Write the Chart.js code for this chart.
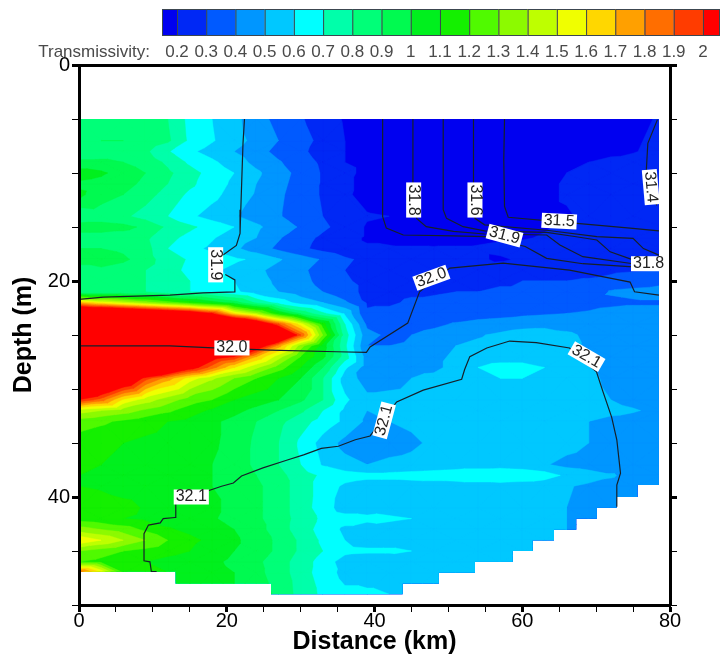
<!DOCTYPE html>
<html>
<head>
<meta charset="utf-8">
<style>
html,body{margin:0;padding:0;background:#fff}
#wrap{position:relative;width:720px;height:657px}
</style>
<script src="https://cdn.jsdelivr.net/npm/chart.js@4/dist/chart.umd.min.js"></script>
</head>
<body>
<div id="wrap"><canvas id="c" width="720" height="657"></canvas></div>
<script>
// colour classes of the transmissivity field
const levels = [0.2,0.3,0.4,0.5,0.6,0.7,0.8,0.9,1,1.1,1.2,1.3,1.4,1.5,1.6,1.7,1.8,1.9,2];
const levelLabels = ['0.2','0.3','0.4','0.5','0.6','0.7','0.8','0.9','1','1.1','1.2','1.3','1.4','1.5','1.6','1.7','1.8','1.9','2'];
const levelColors = ['#0000f0','#0028f5','#005aff','#0096ff','#00c8ff','#00ffff','#00ffaa','#00ff78','#00fa50','#00f01e',
  '#14f000','#50fa00','#8cfa00','#beff00','#f0ff00','#ffd700','#ffa000','#ff6e00','#ff3c00','#ff0000'];

const distances = [0,3,6,9,12,15,18,21,24,27,30,33,36,39,42,45,48,51,54,57,60,63,66,69,72,75,79];
const depths = [5,7,8,9,10,11,12,14,15,16,17,18,19,20,21,22,23,24,25,26,27,28,29,31,32,33,35,37,38,39,41,42,43,44,45,46,47,49];

const d05 = [.85,.85,.85,.84,.8,.67,.6,.53,.44,.37,.31,.25,.19,.14,.12,.12,.12,.12,.12,.12,.12,.12,.12,.13,.14,.16,.22];
const d07 = [.88,.9,.9,.88,.82,.68,.61,.54,.47,.4,.34,.27,.2,.16,.13,.12,.12,.12,.12,.12,.12,.13,.14,.16,.17,.18,.24];
const d08 = [.84,.85,.85,.82,.71,.62,.56,.5,.44,.37,.32,.26,.2,.16,.13,.12,.12,.12,.12,.12,.12,.13,.14,.15,.16,.19,.25];
const d09 = [.92,.92,.9,.86,.78,.68,.62,.55,.47,.41,.35,.28,.2,.18,.14,.13,.12,.12,.12,.13,.14,.16,.18,.2,.24,.25,.26];
const d10 = [1.05,1.02,.95,.9,.82,.74,.66,.6,.52,.44,.37,.29,.22,.18,.14,.13,.12,.12,.13,.13,.15,.17,.2,.23,.25,.26,.27];
const d11 = [.98,.96,.93,.88,.8,.72,.65,.58,.5,.43,.36,.29,.22,.17,.14,.13,.12,.12,.13,.14,.16,.18,.21,.24,.25,.26,.27];
const d12 = [1.02,.95,.9,.84,.76,.68,.63,.56,.49,.42,.35,.29,.22,.16,.14,.13,.12,.12,.13,.14,.16,.18,.21,.24,.25,.26,.27];
const d14 = [.82,.84,.82,.76,.7,.62,.56,.51,.46,.41,.35,.3,.24,.21,.2,.16,.14,.13,.13,.14,.16,.18,.19,.22,.24,.25,.26];
const d15 = [.95,.95,.93,.88,.78,.72,.66,.6,.52,.45,.39,.32,.26,.19,.18,.16,.14,.13,.14,.15,.17,.19,.22,.24,.25,.26,.26];
const d16 = [.85,.85,.85,.82,.73,.67,.61,.55,.5,.41,.34,.28,.23,.19,.18,.17,.16,.17,.18,.19,.19,.21,.23,.25,.26,.26,.27];
const d17 = [.9,.9,.88,.84,.7,.63,.58,.52,.45,.38,.32,.27,.23,.21,.21,.21,.21,.21,.21,.22,.24,.25,.26,.26,.27,.27,.27];
const d18 = [.95,.95,.92,.85,.74,.69,.65,.62,.58,.51,.45,.39,.32,.27,.25,.24,.23,.22,.21,.19,.21,.24,.25,.26,.27,.28,.28];
const d19 = [.85,.88,.85,.8,.73,.68,.62,.57,.52,.47,.42,.36,.3,.25,.24,.23,.22,.22,.23,.24,.25,.26,.27,.27,.28,.29,.3];
const d20 = [.82,.85,.82,.8,.74,.7,.66,.6,.54,.48,.43,.37,.31,.28,.27,.27,.27,.28,.28,.29,.3,.3,.3,.31,.33,.36,.38];
const d21 = [.8,.8,.8,.8,.72,.7,.68,.62,.55,.5,.45,.4,.33,.28,.28,.29,.29,.3,.3,.31,.31,.32,.32,.33,.41,.42,.43];
const d22 = [1.7,1.55,1.45,1.35,1.25,1.15,1.05,.95,.78,.66,.56,.5,.42,.29,.29,.31,.32,.33,.33,.34,.35,.35,.36,.37,.38,.39,.39];
const d23 = [2.6,2.6,2.5,2.4,2.3,2.2,2,1.6,1.4,1.1,.88,.72,.58,.31,.32,.33,.34,.35,.36,.37,.38,.39,.4,.41,.43,.43,.43];
const d24 = [3.2,3.2,3.1,3.1,3,3,2.9,2.6,2.3,1.9,1.55,1.15,.7,.38,.35,.36,.38,.41,.43,.44,.46,.47,.46,.44,.42,.42,.42];
const d25 = [3.4,3.4,3.4,3.4,3.4,3.3,3.2,3.1,3,2.5,1.9,1.3,.75,.43,.38,.4,.43,.47,.49,.52,.55,.55,.52,.48,.46,.45,.45];
const d26 = [3.3,3.3,3.3,3.2,3.1,3,2.9,2.6,2.2,1.75,1.35,1.05,.72,.4,.4,.41,.45,.5,.52,.54,.55,.55,.52,.49,.46,.45,.45];
const d27 = [3.2,3.2,3.1,3,2.8,2.5,2.1,2,1.7,1.45,1.2,1.03,.75,.45,.41,.43,.47,.52,.55,.56,.56,.55,.52,.5,.47,.45,.45];
const d28 = [3,3,2.9,2.7,2.4,2.1,1.85,1.6,1.42,1.25,1.1,.9,.62,.45,.46,.46,.47,.54,.6,.63,.63,.6,.55,.51,.47,.45,.45];
const d29 = [2.8,2.5,2.3,1.95,1.75,1.55,1.42,1.3,1.2,1.1,1,.8,.55,.46,.46,.5,.53,.55,.57,.6,.6,.56,.55,.52,.48,.45,.45];
const d31 = [2,1.85,1.58,1.45,1.35,1.25,1.2,1.1,1.05,1,.92,.8,.62,.52,.53,.54,.55,.55,.56,.56,.56,.55,.54,.53,.5,.47,.45];
const d32 = [1.45,1.4,1.35,1.28,1.22,1.15,1.08,1.03,.97,.9,.82,.7,.58,.5,.52,.54,.55,.55,.56,.56,.56,.55,.54,.54,.53,.51,.47];
const d33 = [1.25,1.22,1.18,1.14,1.1,1.07,1.02,.97,.9,.83,.74,.66,.58,.48,.5,.52,.53,.54,.55,.55,.55,.54,.53,.5,.47,.46,.45];
const d35 = [1.15,1.12,1.1,1.08,1.06,1.04,1.02,.96,.88,.8,.68,.56,.47,.45,.46,.48,.52,.54,.55,.55,.55,.55,.54,.5,.46,.45,.45];
const d37 = [1.1,1.1,1.08,1.06,1.04,1.02,1,.95,.88,.8,.7,.59,.53,.5,.52,.53,.54,.55,.55,.55,.54,.51,.47,.45,.45,.45,.45];
const d38 = [1.1,1.08,1.06,1.05,1.03,1.02,1,.96,.9,.83,.75,.68,.65,.63,.63,.64,.65,.66,.68,.7,.68,.65,.58,.55,.51,.47,.45];
const d39 = [1.1,1.08,1.06,1.05,1.03,1.02,1,.97,.92,.85,.75,.66,.58,.55,.55,.55,.55,.55,.55,.55,.54,.53,.51,.48,.47,.45,.45];
const d41 = [1.2,1.17,1.13,1.09,1.07,1.05,1.02,.97,.92,.85,.75,.65,.55,.52,.55,.55,.55,.55,.55,.55,.55,.53,.5,.47,.45,.45,.45];
const d42 = [1.15,1.13,1.1,1.08,1.06,1.04,1.01,.97,.92,.85,.76,.68,.64,.64,.62,.6,.57,.56,.55,.55,.55,.53,.5,.47,.45,.45,.45];
const d43 = [1.35,1.3,1.25,1.18,1.11,1.08,1.04,1,.94,.85,.75,.66,.58,.52,.55,.55,.55,.55,.55,.55,.55,.53,.5,.47,.45,.45,.45];
const d44 = [1.6,1.5,1.4,1.3,1.2,1.12,1.08,1.02,.95,.88,.78,.68,.6,.55,.55,.55,.55,.55,.55,.55,.55,.53,.5,.47,.45,.45,.45];
const d45 = [1.3,1.25,1.2,1.17,1.13,1.1,1.05,1,.95,.88,.78,.7,.63,.62,.62,.6,.56,.55,.55,.55,.55,.53,.5,.47,.45,.45,.45];
const d46 = [1.2,1.17,1.13,1.1,1.07,1.05,1.02,.98,.92,.85,.75,.66,.55,.52,.52,.54,.55,.55,.55,.55,.55,.53,.5,.47,.45,.45,.45];
const d47 = [1.9,1.6,1.2,1.13,1.1,1.07,1.03,1,.93,.85,.75,.65,.57,.55,.55,.55,.55,.55,.55,.55,.55,.53,.5,.47,.45,.45,.45];
const d49 = [1.1,1.1,1.1,1.1,1.08,1.05,1.02,1,.95,.88,.76,.68,.62,.62,.6,.56,.55,.55,.55,.55,.55,.53,.5,.47,.45,.45,.45];
const fieldRows = [d05,d07,d08,d09,d10,d11,d12,d14,d15,d16,d17,d18,d19,d20,d21,d22,d23,d24,d25,d26,d27,d28,d29,d31,d32,d33,d35,d37,d38,d39,d41,d42,d43,d44,d45,d46,d47,d49];

// outline of the sampled section (km / m), the stairs at the bottom come from the picture
const edgeKm = [0,78.5,78.5,75.6,75.6,72.8,72.8,70.1,70.1,67.3,67.3,64.3,64.3,61.4,61.4,58.7,58.7,53.6,53.6,48.7,48.7,43.8,43.8,26,26,13.1,13.1,0];
const edgeDepth = [5,5,38.9,38.9,40,40,41,41,42,42,43,43,44,44,45,45,46,46,47,47,48,48,49,49,48,48,46.9,46.9];

// salinity contours
const c319aKm = [22.4,22.2,22.05,21.9,21.8,21.3,19.5];
const c319aM = [5,7.25,10.3,13.4,15.6,16.7,17.6];
const c319bKm = [19.8,21.1,21.1,16.8,12.3,7.8,3.3,0];
const c319bM = [19.4,19.9,21,21.1,21.3,21.4,21.5,21.7];
const c320Km = [0,12.3,18.2,25.8,34.9,38.9,39.4,44.5,46.1,50.2,57.4,66.4,74.6,75.2,78.5];
const c320M = [26,26,26.2,26.4,26.55,26.6,26.1,23.9,21,18.8,18.35,19,20.1,21,21.3];
const c321Km = [10.5,9.8,9.6,8.8,8.8,9.4,11,11.4,13,13.1,17.6,19.3,20.9,22,24.9,28.1,30.4,32.8,35.1,37.4,39.4,43,46.6,51.8,52.2,52.9,55.2,58.3,61.9,66.4,70.05,70.9,72.1,72.8,73.3,72.8,72.8];
const c321M = [46.9,46.9,46,45.9,43.4,42.6,42.4,42,41.9,40.6,39.4,39,38.7,38.05,37.3,36.6,36.1,35.5,35.3,34.7,34.35,31.2,30.1,29.1,28.2,27,26.2,25.56,25.7,26.2,28.4,30.2,32.6,34.7,37.8,38.9,40.9];
const topAKm = [41.1,41.1,41.6,43.9,50.7,54.9,60.4,63.3,68.2,75];
const topAM = [5,14.05,15.1,15.74,15.83,15.9,16.8,17.9,18.4,18.7];
const topBKm = [45.2,45.2,45.7,47,50.7,54.9,63.3,65.1,68.2,75];
const topBM = [5,10.95,14.2,14.97,15.4,15.65,15.74,16.67,17.75,18.4];
const topCKm = [49.3,49.3,49.75,52,54.9,63.3,67.3,70.1,71.9,75];
const topCM = [5,13.4,14.2,14.97,15.35,15.5,15.9,16.2,17.3,18.05];
const topDKm = [53.4,53.4,53.6,54.9,63.3,70.1,75,76.4,78.5];
const topDM = [5,10.8,14.2,14.8,15.3,15.9,16.05,17,17.6];
const topEKm = [57.6,57.5,57.6,58.1,67.4,74.6,78.5];
const topEM = [5,8.8,13.1,14.1,14.66,15.1,15.35];
const c314Km = [78.3,77,76.8,78.2];
const c314M = [5.06,7.25,9.7,13];
const contours = [[c319aKm,c319aM],[c319bKm,c319bM],[c320Km,c320M],[c321Km,c321M],[topAKm,topAM],[topBKm,topBM],[topCKm,topCM],[topDKm,topDM],[topEKm,topEM],[c314Km,c314M]];

// contour labels
const labelTexts = ['31.9','32.0','31.8','31.6','31.9','31.5','31.4','31.8','32.0','32.1','32.1','32.1'];
const labelKm = [18.5,20.7,45.3,53.6,57.6,65,77.4,77.1,47.7,68.7,41.3,15.2];
const labelDepth = [18.5,26.2,12.5,12.5,15.8,14.45,11.3,18.4,19.7,27,32.9,40];
const labelAngles = [90,0,90,90,15,3,85,0,-20,30,-75,0];

const xTicks = [0,20,40,60,80];
const yTicks = [0,20,40];

function gridPoints(){
    const pts = [];
    depths.forEach((d,r)=>{
        distances.forEach((k,c)=>{ pts.push({x:k,y:d,v:fieldRows[r][c]}); });
    });
    return pts;
}

// clip a triangle to the part with value >= level
function clipTriangle(tri,level){
    const out = [];
    for(let i=0;i<3;i++){
        const a = tri[i], b = tri[(i+1)%3];
        if(a.v>=level) out.push(a);
        if((a.v>=level)!==(b.v>=level)){
            const t = (level-a.v)/(b.v-a.v);
            out.push({px:a.px+t*(b.px-a.px),py:a.py+t*(b.py-a.py),v:level});
        }
    }
    return out;
}

const fieldPlugin = {
    id:'field',
    beforeDatasetsDraw(chart){
        const {ctx,scales:{x,y}} = chart;
        const pts = chart.data.datasets[0].data.map(p=>({px:x.getPixelForValue(p.x),py:y.getPixelForValue(p.y),v:p.v}));
        const nc = distances.length, nr = depths.length;
        ctx.save();
        ctx.beginPath();
        edgeKm.forEach((k,i)=>{
            const px = x.getPixelForValue(k), py = y.getPixelForValue(edgeDepth[i]);
            if(i===0) ctx.moveTo(px,py); else ctx.lineTo(px,py);
        });
        ctx.closePath();
        ctx.clip();
        ctx.fillStyle = levelColors[0];
        ctx.fillRect(x.left,y.top,x.right-x.left,y.bottom-y.top);
        levels.forEach((lv,li)=>{
            ctx.beginPath();
            for(let r=0;r<nr-1;r++){
                for(let c=0;c<nc-1;c++){
                    const a = pts[r*nc+c], b = pts[r*nc+c+1], d = pts[(r+1)*nc+c], e = pts[(r+1)*nc+c+1];
                    const tris = (r+c)%2===0 ? [[a,b,e],[a,e,d]] : [[a,b,d],[b,e,d]];
                    tris.forEach(t=>{
                        const poly = clipTriangle(t,lv);
                        if(poly.length<3) return;
                        poly.forEach((p,i)=>{ if(i===0) ctx.moveTo(p.px,p.py); else ctx.lineTo(p.px,p.py); });
                        ctx.closePath();
                    });
                }
            }
            ctx.fillStyle = levelColors[li+1];
            ctx.fill();
            ctx.strokeStyle = levelColors[li+1];
            ctx.lineWidth = 0.4;
            ctx.stroke();
        });
        ctx.restore();
    },
    afterDatasetsDraw(chart){
        const {ctx,scales:{x,y}} = chart;
        ctx.save();
        ctx.font = '16px "Liberation Sans"';
        ctx.textAlign = 'center';
        ctx.textBaseline = 'middle';
        labelTexts.forEach((t,i)=>{
            ctx.save();
            ctx.translate(x.getPixelForValue(labelKm[i]),y.getPixelForValue(labelDepth[i]));
            ctx.rotate(labelAngles[i]*Math.PI/180);
            const w = ctx.measureText(t).width+4;
            ctx.fillStyle = '#fff';
            ctx.fillRect(-w/2,-7.5,w,15);
            ctx.fillStyle = '#222';
            ctx.fillText(t,0,0);
            ctx.restore();
        });
        ctx.restore();
    },
    afterDraw(chart){
        // colour bar above the plot
        const ctx = chart.ctx;
        const first = 177, step = 29.22;
        ctx.save();
        levelColors.forEach((col,i)=>{
            const x0 = i===0 ? 162 : first+(i-1)*step;
            const x1 = i===levelColors.length-1 ? 719 : first+i*step;
            ctx.fillStyle = col;
            ctx.fillRect(x0,9,x1-x0,27);
            ctx.strokeStyle = '#3c4650';
            ctx.lineWidth = 1;
            ctx.strokeRect(x0+.5,9.5,x1-x0,26);
        });
        ctx.fillStyle = '#4a4a4a';
        ctx.font = '17px "Liberation Sans"';
        ctx.textAlign = 'center';
        ctx.textBaseline = 'middle';
        levelLabels.forEach((t,i)=>{ ctx.fillText(t,first+i*step,52); });
        ctx.textAlign = 'right';
        ctx.fillText('Transmissivity:',150,52);
        ctx.restore();
    }
};

const datasets = [{label:'Transmissivity',data:gridPoints(),pointRadius:0,showLine:false}];
contours.forEach(pair=>{
    datasets.push({
        data:pair[0].map((k,i)=>({x:k,y:pair[1][i]})),
        showLine:true,pointRadius:0,borderColor:'#16202a',borderWidth:1.2,tension:0
    });
});

function tickOpts(major,pad){
    return {
        stepSize:5,autoSkip:false,maxRotation:0,padding:pad,color:'#000',
        font:{family:'"Liberation Sans"',size:20},
        callback:v=>major.includes(v)?String(v):''
    };
}
function gridOpts(major){
    return {
        drawOnChartArea:false,drawTicks:true,tickLength:7,color:'#000',
        tickWidth:c=>major.includes(c.tick.value)?3:1,
        tickColor:'#000'
    };
}
const borderOpts = {display:true,color:'#000',width:3,z:1};
const titleFont = {family:'"Liberation Sans"',size:25,weight:'bold'};

new Chart(document.getElementById('c'),{
    type:'scatter',
    data:{datasets},
    plugins:[fieldPlugin],
    options:{
        responsive:false,animation:false,
        layout:{padding:{top:65,left:0,right:0,bottom:0}},
        plugins:{legend:{display:false},tooltip:{enabled:false}},
        scales:{
            x:{type:'linear',position:'bottom',min:0,max:80,
                ticks:tickOpts(xTicks,-3),grid:gridOpts(xTicks),border:borderOpts,
                title:{display:true,text:'Distance (km)',font:titleFont,color:'#000',padding:{top:0,bottom:0}},
                afterFit:s=>{s.height=52;}},
            y:{type:'linear',position:'left',min:0,max:50,reverse:true,
                ticks:tickOpts(yTicks,2),grid:gridOpts(yTicks),border:borderOpts,
                title:{display:true,text:'Depth (m)',font:titleFont,color:'#000',padding:{top:9,bottom:0}},
                afterFit:s=>{s.width=79;}},
            yRight:{type:'linear',position:'right',min:0,max:50,reverse:true,
                ticks:{stepSize:5,autoSkip:false,callback:()=>''},grid:gridOpts(yTicks),border:borderOpts,
                afterFit:s=>{s.width=50;}},
            xTop:{type:'linear',position:'top',min:0,max:80,
                ticks:{display:false},grid:{display:false,drawOnChartArea:false,drawTicks:false},border:borderOpts,
                afterFit:s=>{s.height=0;}}
        }
    }
});
</script>
</body>
</html>
